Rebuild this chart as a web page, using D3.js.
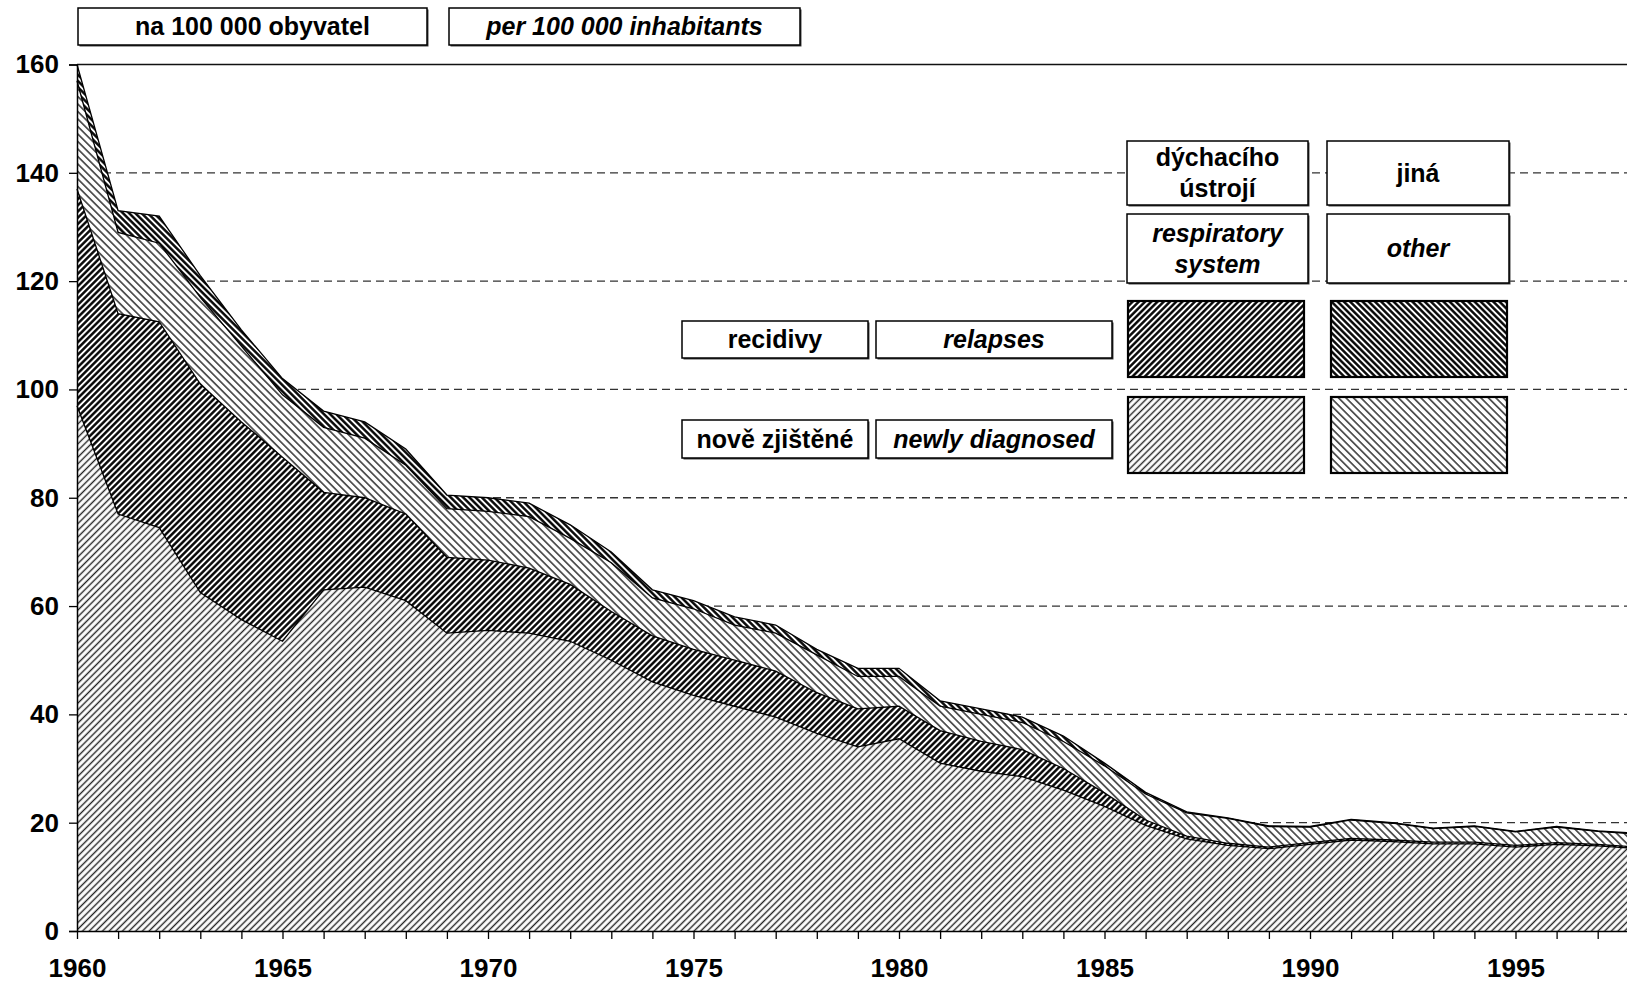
<!DOCTYPE html>
<html>
<head>
<meta charset="utf-8">
<script src="https://cdn.jsdelivr.net/npm/d3@7"></script>
<style>
    body { margin: 0; background: #fff; }
    text { font-family: "Liberation Sans", Arial, sans-serif; font-weight: bold; fill: #000; }
    .it { font-style: italic; }
</style>
</head>
<body>
<div id="chart"></div>
<script>
// years on the x axis
const years = d3.range(1960, 1999);

// per 100 000 inhabitants
const newResp = [97, 77, 74.5, 62.5, 57.5, 53.5, 63, 63.5, 61, 55,
    55.5, 55, 53.5, 50, 46, 43.5, 41.5, 39.5, 36.5, 34,
    35.5, 31, 29.5, 28.5, 26, 23, 19.5, 17, 15.8, 15.2,
    16, 16.8, 16.5, 16.1, 16.1, 15.5, 16, 15.7, 15.2];
const relResp = [40, 37, 38, 38.5, 36.5, 34, 18, 16.5, 16, 14,
    13, 12, 10.5, 9, 8.5, 8.5, 8.5, 8.5, 7.5, 7,
    6, 6, 5.5, 5, 4, 2.5, 1, 0.5, 0.4, 0.3,
    0.3, 0.3, 0.3, 0.3, 0.3, 0.3, 0.3, 0.3, 0.3];
const newOther = [20, 15, 14.5, 16, 14, 11.5, 12, 11, 9, 9,
    9, 9.5, 8.5, 9, 7, 7.5, 6.5, 7, 7, 6,
    5.5, 4.5, 5, 5, 5, 5, 4.8, 4.3, 4.6, 3.8,
    2.9, 3.4, 3.1, 2.5, 2.9, 2.5, 2.9, 2.4, 2.4];
const relOther = [3, 4, 5, 4, 3, 3, 3, 3, 3, 2.5,
    2.5, 2.5, 2.5, 2, 1.5, 1.5, 1.5, 1.5, 1, 1.5,
    1.5, 1, 1, 1, 1, 0.5, 0.3, 0.2, 0.1, 0.1,
    0.1, 0.1, 0.1, 0.1, 0.1, 0.1, 0.1, 0.1, 0.1];

const yTicks = [0, 20, 40, 60, 80, 100, 120, 140, 160];
const xLabels = [1960, 1965, 1970, 1975, 1980, 1985, 1990, 1995];

const keys = ["newResp", "relResp", "newOther", "relOther"];
const rows = years.map((y, i) => ({
    year: y,
    newResp: newResp[i],
    relResp: relResp[i],
    newOther: newOther[i],
    relOther: relOther[i]
}));

const width = 1627, height = 984;

const svg = d3.select("#chart").append("svg")
    .attr("width", width)
    .attr("height", height);

// hatch patterns: thin/thick, forward/back slash
const defs = svg.append("defs");
function hatch(id, size, angle, sw, color) {
    const p = defs.append("pattern")
        .attr("id", id)
        .attr("patternUnits", "userSpaceOnUse")
        .attr("width", size)
        .attr("height", size)
        .attr("patternTransform", `rotate(${angle})`);
    p.append("rect").attr("width", size).attr("height", size).attr("fill", "#fff");
    p.append("line")
        .attr("x1", size / 2).attr("y1", -1)
        .attr("x2", size / 2).attr("y2", size + 1)
        .attr("stroke", color)
        .attr("stroke-width", sw);
}
hatch("p-newResp", 4.7, 45, 1.4, "#222");
hatch("p-relResp", 4.4, 45, 2.4, "#000");
hatch("p-newOther", 5.3, -45, 1.4, "#222");
hatch("p-relOther", 4.4, -45, 2.4, "#000");

// scales
const x = d3.scaleLinear()
    .domain([1960, 1998])
    .range([77, 77 + 38 * 41.1]);

const y = d3.scaleLinear()
    .domain([0, 160])
    .range([931, 64.5]);

// gridlines (dashed) and the solid top line
svg.append("g")
    .selectAll("line")
    .data(yTicks.filter(t => t > 0))
    .join("line")
    .attr("x1", x(1960))
    .attr("x2", width)
    .attr("y1", d => y(d))
    .attr("y2", d => y(d))
    .attr("stroke", d => d === 160 ? "#111" : "#333")
    .attr("stroke-width", 1.3)
    .attr("stroke-dasharray", d => d === 160 ? null : "8,5");

// stacked areas
const series = d3.stack().keys(keys)(rows);

const area = d3.area()
    .x(d => x(d.data.year))
    .y0(d => y(d[0]))
    .y1(d => y(d[1]));

const line = d3.line()
    .x(d => x(d.data.year))
    .y(d => y(d[1]));

svg.append("g")
    .selectAll("path")
    .data(series)
    .join("path")
    .attr("d", area)
    .attr("fill", d => `url(#p-${d.key})`);

svg.append("g")
    .selectAll("path")
    .data(series)
    .join("path")
    .attr("d", line)
    .attr("fill", "none")
    .attr("stroke", "#000")
    .attr("stroke-width", 1.3);

// axes
const yAxis = d3.axisLeft(y)
    .tickValues(yTicks)
    .tickSize(8)
    .tickPadding(10);

const gy = svg.append("g")
    .attr("transform", `translate(${x(1960)},0)`)
    .call(yAxis);
gy.select(".domain").attr("stroke", "#000").attr("stroke-width", 1.5);
gy.selectAll(".tick line").attr("stroke", "#000").attr("stroke-width", 1.3);
gy.selectAll(".tick text")
    .style("font-size", "26px")
    .style("font-family", "Liberation Sans, Arial, sans-serif")
    .style("font-weight", "bold");

const xAxis = d3.axisBottom(x)
    .tickValues(years)
    .tickSize(8)
    .tickSizeOuter(0)
    .tickFormat(d => xLabels.includes(d) ? d : "")
    .tickPadding(20);

const gx = svg.append("g")
    .attr("transform", `translate(0,${y(0)})`)
    .call(xAxis);
gx.select(".domain").attr("stroke", "#000").attr("stroke-width", 1.5);
gx.selectAll(".tick line").attr("stroke", "#000").attr("stroke-width", 1.3);
gx.selectAll(".tick text")
    .style("font-size", "26px")
    .style("font-family", "Liberation Sans, Arial, sans-serif")
    .style("font-weight", "bold");

// label boxes
function box(x0, y0, w, h, lines, italic) {
    const g = svg.append("g");
    g.append("rect")
        .attr("x", x0 + 1.5).attr("y", y0 + 1.5)
        .attr("width", w).attr("height", h)
        .attr("fill", "#444");
    g.append("rect")
        .attr("x", x0).attr("y", y0)
        .attr("width", w).attr("height", h)
        .attr("fill", "#fff")
        .attr("stroke", "#000")
        .attr("stroke-width", 1.5);
    const lh = 31;
    const top = y0 + h / 2 - (lines.length - 1) * lh / 2;
    lines.forEach((t, i) => {
        g.append("text")
            .attr("class", italic ? "it" : null)
            .attr("x", x0 + w / 2)
            .attr("y", top + i * lh)
            .attr("dy", "0.35em")
            .attr("text-anchor", "middle")
            .style("font-size", "25px")
            .text(t);
    });
}

box(78, 8, 349, 37, ["na 100 000 obyvatel"], false);
box(449, 8, 351, 37, ["per 100 000 inhabitants"], true);

box(1127, 141, 181, 64, ["dýchacího", "ústrojí"], false);
box(1327, 141, 182, 64, ["jiná"], false);
box(1127, 214, 181, 69, ["respiratory", "system"], true);
box(1327, 214, 182, 69, ["other"], true);

box(682, 321, 186, 37, ["recidivy"], false);
box(876, 321, 236, 37, ["relapses"], true);
box(682, 420, 186, 38, ["nově zjištěné"], false);
box(876, 420, 236, 38, ["newly diagnosed"], true);

// pattern swatches
const swatches = [
    { key: "relResp", x: 1128, y: 301 },
    { key: "relOther", x: 1331, y: 301 },
    { key: "newResp", x: 1128, y: 397 },
    { key: "newOther", x: 1331, y: 397 }
];
svg.append("g")
    .selectAll("rect")
    .data(swatches)
    .join("rect")
    .attr("x", d => d.x)
    .attr("y", d => d.y)
    .attr("width", 176)
    .attr("height", 76)
    .attr("fill", d => `url(#p-${d.key})`)
    .attr("stroke", "#000")
    .attr("stroke-width", 2.2);
</script>
</body>
</html>
